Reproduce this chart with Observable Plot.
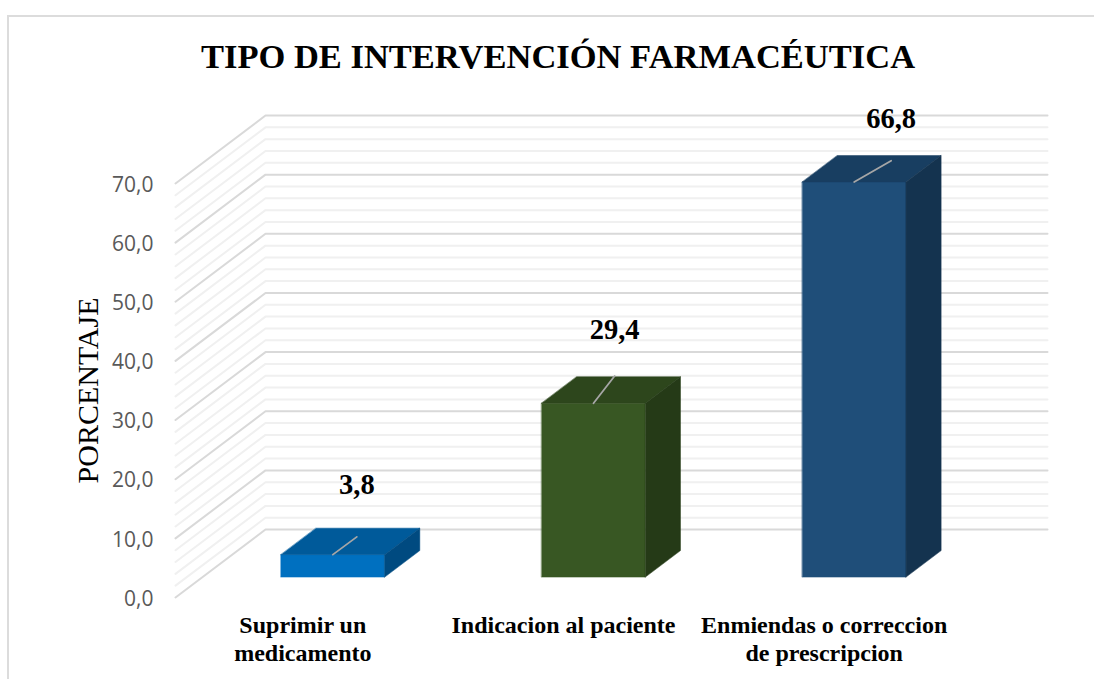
<!DOCTYPE html>
<html lang="es">
<head>
<meta charset="utf-8">
<script src="https://cdn.jsdelivr.net/npm/d3@7"></script>
<script src="https://cdn.jsdelivr.net/npm/@observablehq/plot@0.6"></script>
<style>
html,body{margin:0;padding:0;background:#fff;overflow:hidden}
#chart{position:relative;width:1094px;height:679px;overflow:hidden}
#border{position:absolute;left:7px;top:15px;width:1200px;height:800px;border:2px solid #dcdcdc;box-sizing:border-box}
#chart svg{position:absolute;left:0;top:0}
</style>
</head>
<body>
<div id="chart"><div id="border"></div></div>
<script>
const titleText = "TIPO DE INTERVENCIÓN FARMACÉUTICA";
const yLabel = "PORCENTAJE";
const categories = ["Suprimir un\nmedicamento", "Indicacion al paciente", "Enmiendas o correccion\nde prescripcion"];
const values = [3.8, 29.4, 66.8];
const valueLabels = ["3,8", "29,4", "66,8"];
const yTicks = [0, 10, 20, 30, 40, 50, 60, 70];
const minorTicks = [2,4,6,8,12,14,16,18,22,24,26,28,32,34,36,38,42,44,46,48,52,54,56,58,62,64,66,68];
const frontColors = ["#0070c0", "#385723", "#1f4e79"];
const topColors = ["#005a9a", "#2d461c", "#183e61"];
const sideColors = ["#004a80", "#253a17", "#14334f"];

// Oblique "3D" projection expressed in scale units
const depthX = 0.3453;   // category units for full floor depth
const depthY = 11.49;    // value units for full floor depth
const barHalf = 0.199, d1 = 0.3, d2 = 0.69;
const P = (x, d, v) => ({x: x + d * depthX, y: v + d * depthY});

// leader end offsets (x in category units, y in value units)
const leaderDX = [0.092, 0.081, 0.142];
const leaderDY = [3.0, 4.6, 3.6];
const labelDY = [11.8, 12.4, 10.6];

const grid = (list, id) => list.flatMap(v => [
  {...P(0, 0, v), z: id + v},
  {...P(0, 1, v), z: id + v},
  {...P(3, 1, v), z: id + v}
]);

const faces = values.flatMap((v, i) => {
  const l = i + 0.5 - barHalf, r = i + 0.5 + barHalf;
  const poly = (pts, name, fill) => pts.map(p => ({...p, z: name + i, fill}));
  return [
    ...poly([P(l,d1,0), P(r,d1,0), P(r,d1,v), P(l,d1,v)], "front", frontColors[i]),
    ...poly([P(l,d1,v), P(r,d1,v), P(r,d2,v), P(l,d2,v)], "top", topColors[i]),
    ...poly([P(r,d1,0), P(r,d2,0), P(r,d2,v), P(r,d1,v)], "side", sideColors[i])
  ];
});

const leaders = values.flatMap((v, i) => {
  const a = P(i + 0.5, d1, v);
  return [{...a, z: i}, {x: a.x + leaderDX[i], y: a.y + leaderDY[i], z: i}];
});
const labels = values.map((v, i) => {
  const a = P(i + 0.5, d1, v);
  return {x: a.x + leaderDX[i], y: a.y + labelDY[i], t: valueLabels[i]};
});
const catData = categories.map((c, i) => ({x: i + 0.5, c}));

const serif = "'Liberation Serif','Times New Roman',serif";
const plot = Plot.plot({
  width: 1094, height: 679,
  marginLeft: 175, marginRight: 47, marginTop: 115, marginBottom: 82,
  style: {background: "transparent", overflow: "visible"},
  x: {domain: [0, 3 + depthX], axis: null},
  y: {domain: [0, 70 + depthY], axis: null},
  marks: [
    Plot.line(grid(minorTicks, "m"), {x: "x", y: "y", z: "z", stroke: "#f0f0f0", strokeWidth: 2, curve: "linear"}),
    Plot.line(grid(yTicks, "M"), {x: "x", y: "y", z: "z", stroke: "#d9d9d9", strokeWidth: 2, curve: "linear"}),
    Plot.line(faces, {x: "x", y: "y", z: "z", fill: "fill", stroke: "fill", strokeWidth: 0.5, curve: "linear-closed"}),
    Plot.line(leaders, {x: "x", y: "y", z: "z", stroke: "#a6a6a6", strokeWidth: 1.8, curve: "linear"}),
    Plot.axisY({ticks: yTicks, tickFormat: d => d3.format(".1f")(d).replace(".", ","), tickSize: 0, tickPadding: 22, dy: 1.5,
      label: null, fontSize: 21, fontFamily: "'Open Sans',sans-serif", color: "#595959"}),
    Plot.text(labels, {x: "x", y: "y", text: "t", fontSize: 28.5, fontWeight: "bold", fontFamily: serif, fill: "#000"}),
    Plot.text(catData, {x: "x", text: "c", frameAnchor: "bottom", lineAnchor: "top", dy: 15.5, dx: -3, lineHeight: 1.167,
      fontSize: 24, fontWeight: "bold", fontFamily: serif, fill: "#000"}),
    Plot.text([titleText], {frameAnchor: "top", dy: -59, dx: -53.5, fontSize: 34.5, fontWeight: "bold", fontFamily: serif, fill: "#000", lineAnchor: "middle"}),
    Plot.text([yLabel], {frameAnchor: "left", textAnchor: "middle", rotate: -90, dx: -87, dy: 34, fontSize: 30, fontFamily: serif, fill: "#000"})
  ]
});
document.getElementById("chart").appendChild(plot);
</script>
</body>
</html>
